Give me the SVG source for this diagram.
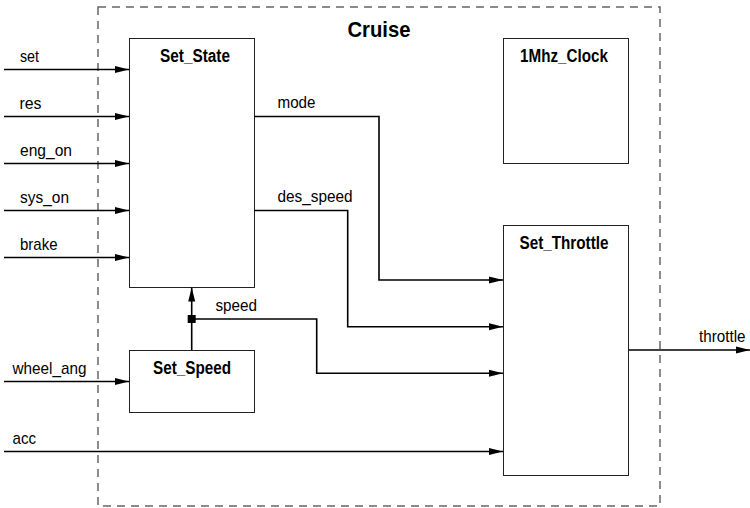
<svg xmlns="http://www.w3.org/2000/svg" width="750" height="508" viewBox="0 0 750 508">
  <style>
    .block { fill: #fff; stroke: #222; stroke-width: 1; }
    .boundary { fill: none; stroke: #666; stroke-width: 1.5; stroke-dasharray: 8 6; }
    .title { font-family: "Liberation Sans Narrow", "Liberation Sans", Arial, sans-serif; font-weight: bold; font-size: 18px; fill: #000; text-anchor: middle; }
    .big { font-size: 22px; }
    .label { font-family: "Liberation Sans Narrow", "Liberation Sans", Arial, sans-serif; font-size: 17px; fill: #000; }
    .wire { fill: none; stroke: #000; stroke-width: 1.6; }
    .arrow { marker-end: url(#head); }
  </style>
  <defs>
    <marker id="head" markerUnits="userSpaceOnUse" markerWidth="14" markerHeight="8" refX="14" refY="4" orient="auto">
      <path d="M0,0.5 L14,4 L0,7.5 z" fill="#000"/>
    </marker>
  </defs>

  <rect width="750" height="508" fill="#fff"/>

  <!-- enclosing Cruise subsystem -->
  <g id="cruise">
    <rect class="boundary" x="98" y="7" width="562" height="499"/>
    <text class="title big" x="379" y="37" textLength="63" lengthAdjust="spacingAndGlyphs">Cruise</text>
  </g>

  <g id="set_state">
    <rect class="block" x="129.5" y="38.5" width="125" height="249"/>
    <text class="title" x="195" y="62" textLength="70" lengthAdjust="spacingAndGlyphs">Set_State</text>
  </g>

  <g id="clock_1mhz">
    <rect class="block" x="503.5" y="38.5" width="125" height="125"/>
    <text class="title" x="564" y="62" textLength="88" lengthAdjust="spacingAndGlyphs">1Mhz_Clock</text>
  </g>

  <g id="set_throttle">
    <rect class="block" x="503.5" y="225.5" width="125" height="250"/>
    <text class="title" x="564" y="249" textLength="89" lengthAdjust="spacingAndGlyphs">Set_Throttle</text>
  </g>

  <g id="set_speed">
    <rect class="block" x="129.5" y="350.5" width="125" height="62"/>
    <text class="title" x="192" y="374" textLength="78" lengthAdjust="spacingAndGlyphs">Set_Speed</text>
  </g>

  <g id="connectors">
    <!-- external inputs to Set_State -->
    <line class="wire arrow" x1="4" y1="69.5" x2="129" y2="69.5"/>
    <line class="wire arrow" x1="4" y1="116.5" x2="129" y2="116.5"/>
    <line class="wire arrow" x1="4" y1="163.5" x2="129" y2="163.5"/>
    <line class="wire arrow" x1="4" y1="210.5" x2="129" y2="210.5"/>
    <line class="wire arrow" x1="4" y1="257.5" x2="129" y2="257.5"/>
    <text class="label" x="20" y="62" textLength="19" lengthAdjust="spacingAndGlyphs">set</text>
    <text class="label" x="19.5" y="108.5" textLength="22" lengthAdjust="spacingAndGlyphs">res</text>
    <text class="label" x="20" y="155.5" textLength="52" lengthAdjust="spacingAndGlyphs">eng_on</text>
    <text class="label" x="20" y="202.5" textLength="49" lengthAdjust="spacingAndGlyphs">sys_on</text>
    <text class="label" x="20" y="249.5" textLength="37.5" lengthAdjust="spacingAndGlyphs">brake</text>

    <!-- wheel angle into Set_Speed -->
    <line class="wire arrow" x1="4" y1="381.5" x2="129" y2="381.5"/>
    <text class="label" x="12.5" y="374" textLength="74" lengthAdjust="spacingAndGlyphs">wheel_ang</text>

    <!-- accelerator straight to Set_Throttle -->
    <line class="wire arrow" x1="4" y1="451.5" x2="503" y2="451.5"/>
    <text class="label" x="12.5" y="444" textLength="23.5" lengthAdjust="spacingAndGlyphs">acc</text>

    <!-- Set_State outputs -->
    <polyline class="wire arrow" points="254.5,116.5 379,116.5 379,280 503,280"/>
    <text class="label" x="277.5" y="107.5" textLength="38" lengthAdjust="spacingAndGlyphs">mode</text>
    <polyline class="wire arrow" points="254.5,210.5 347.7,210.5 347.7,326.7 503,326.7"/>
    <text class="label" x="277.5" y="202" textLength="75" lengthAdjust="spacingAndGlyphs">des_speed</text>

    <!-- measured speed: fed back to Set_State and forward to Set_Throttle -->
    <line class="wire arrow" x1="191.7" y1="350" x2="191.7" y2="287.5"/>
    <polyline class="wire arrow" points="191.7,319 316.7,319 316.7,373.3 503,373.3"/>
    <rect x="187.7" y="315" width="8" height="8" fill="#000"/>
    <text class="label" x="215.5" y="310.5" textLength="41.5" lengthAdjust="spacingAndGlyphs">speed</text>

    <!-- throttle output -->
    <line class="wire arrow" x1="629" y1="350" x2="750" y2="350"/>
    <text class="label" x="699" y="341.5" textLength="46.5" lengthAdjust="spacingAndGlyphs">throttle</text>
  </g>
</svg>
